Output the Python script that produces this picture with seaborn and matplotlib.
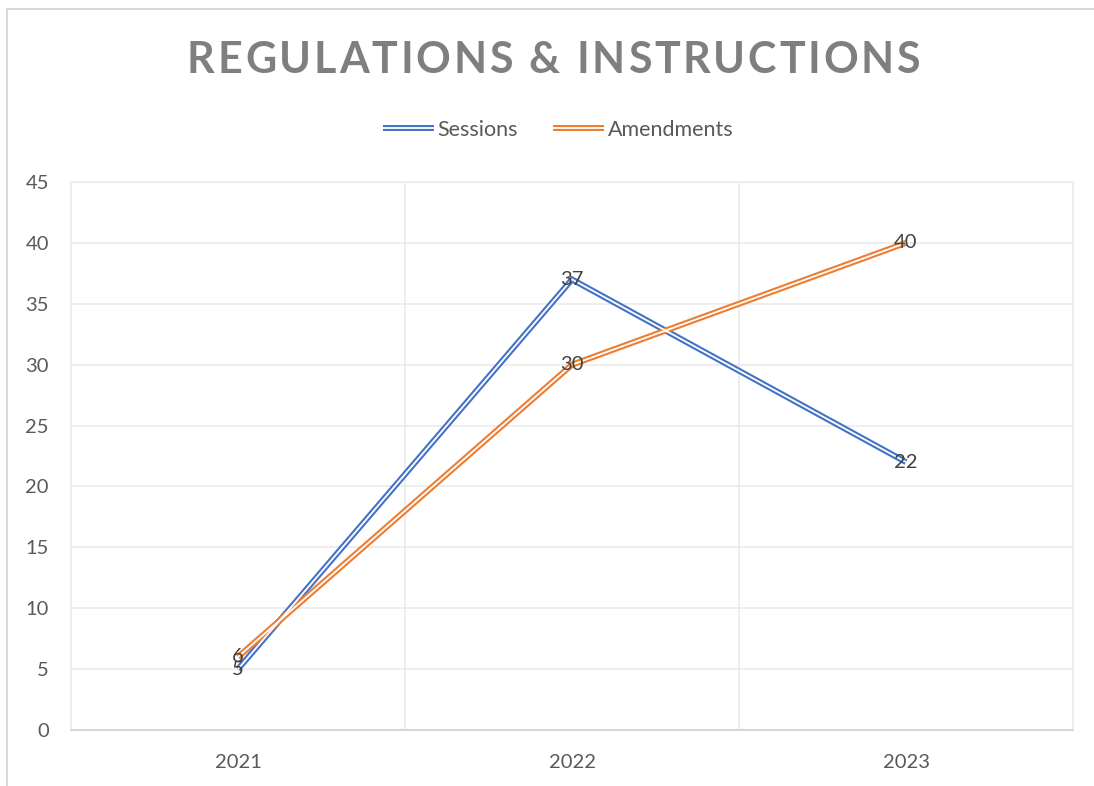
import matplotlib
matplotlib.use("Agg")
import matplotlib.pyplot as plt
from matplotlib.lines import Line2D
from matplotlib.legend_handler import HandlerTuple
import seaborn as sns
import pandas as pd

# Chart data
years = ["2021", "2022", "2023"]
sessions = [5, 37, 22]
amendments = [6, 30, 40]
series_names = ["Sessions", "Amendments"]
title_text = "REGULATIONS & INSTRUCTIONS"
y_ticks = [0, 5, 10, 15, 20, 25, 30, 35, 40, 45]

colors = {"Sessions": "#4472C4", "Amendments": "#ED7D31"}
text_gray = "#595959"
label_gray = "#404040"
grid_gray = "#ebebeb"

sns.set_theme(style="white")
plt.rcParams["font.family"] = ["Lato", "DejaVu Sans"]

df = pd.DataFrame({
    "x": list(range(len(years))) * 2,
    "value": sessions + amendments,
    "series": [series_names[0]] * len(years) + [series_names[1]] * len(years),
})

W, H = 1094, 786
fig = plt.figure(figsize=(W / 100, H / 100), dpi=100)
ax = fig.add_axes([71 / W, 1 - 730 / H, (1073 - 71) / W, (730 - 182) / H])

# Double line: thick coloured stroke with a thin white core
sns.lineplot(data=df, x="x", y="value", hue="series", palette=colors,
             linewidth=4.3, ax=ax, legend=False, zorder=3,
             solid_capstyle="butt", solid_joinstyle="miter")
sns.lineplot(data=df, x="x", y="value", hue="series",
             palette={k: "white" for k in series_names},
             linewidth=1.3, ax=ax, legend=False, zorder=4,
             solid_capstyle="butt", solid_joinstyle="miter")

# Data labels centred on the points
for vals in (sessions, amendments):
    for i, v in enumerate(vals):
        ax.text(i, v, str(v), ha="center", va="center", fontsize=14.5,
                color=label_gray, zorder=5)

ax.set_xlim(-0.5, len(years) - 0.5)
ax.set_ylim(0, 45)
ax.set_yticks(y_ticks)
ax.set_yticklabels([str(t) for t in y_ticks])
ax.set_xticks(range(len(years)))
ax.set_xticklabels(years)
ax.set_xticks([0.5, 1.5], minor=True)
ax.tick_params(axis="both", which="both", length=0, labelsize=14.5,
               labelcolor=text_gray)
ax.tick_params(axis="y", pad=16)
ax.tick_params(axis="x", pad=17)
ax.set_xlabel("")
ax.set_ylabel("")

ax.grid(axis="y", which="major", color=grid_gray, linewidth=1.2)
ax.grid(axis="x", which="minor", color=grid_gray, linewidth=1.2)
ax.grid(axis="x", which="major", visible=False)
for side in ("left", "right", "top"):
    ax.spines[side].set_color(grid_gray)
    ax.spines[side].set_linewidth(1.2)
ax.spines["bottom"].set_color("#d0d0d0")
ax.spines["bottom"].set_linewidth(1.2)

# Legend with double-line handles (white core drawn over the coloured stroke)
handles = []
for name in series_names:
    outer = Line2D([], [], color=colors[name], linewidth=4.3, solid_capstyle="butt")
    inner = Line2D([], [], color="white", linewidth=1.3, solid_capstyle="butt")
    handles.append((outer, inner))
fig.legend(handles, series_names,
           handler_map={tuple: HandlerTuple(ndivide=1, pad=0)},
           loc="center", bbox_to_anchor=(558 / W, 1 - 130 / H), ncol=2,
           frameon=False, fontsize=15.5, labelcolor=text_gray,
           handlelength=2.4, handletextpad=0.15, columnspacing=1.6)

# Tracked title: place each character individually
fig.canvas.draw()
renderer = fig.canvas.get_renderer()
title_size = 31
chars = []
widths = []
for ch in title_text:
    t = fig.text(0, 0, ch if ch != " " else "\u00a0", fontsize=title_size,
                 fontweight="bold", color="#7f7f7f", va="center", ha="left")
    bb = t.get_window_extent(renderer)
    chars.append(t)
    widths.append(bb.width)
span_left, span_right = 187, 920
tracking = (span_right - span_left - sum(widths)) / (len(title_text) - 1)
x = span_left
for t, w in zip(chars, widths):
    t.set_position((x / W, 1 - 60 / H))
    x += w + tracking

# Chart-area border (top and left edges)
fig.add_artist(Line2D([7 / W, 1.0], [1 - 9 / H, 1 - 9 / H], color="#d9d9d9",
                      linewidth=1.5, transform=fig.transFigure))
fig.add_artist(Line2D([7 / W, 7 / W], [0.0, 1 - 9 / H], color="#d9d9d9",
                      linewidth=1.5, transform=fig.transFigure))

fig.savefig("out.png", dpi=100, facecolor="white")
